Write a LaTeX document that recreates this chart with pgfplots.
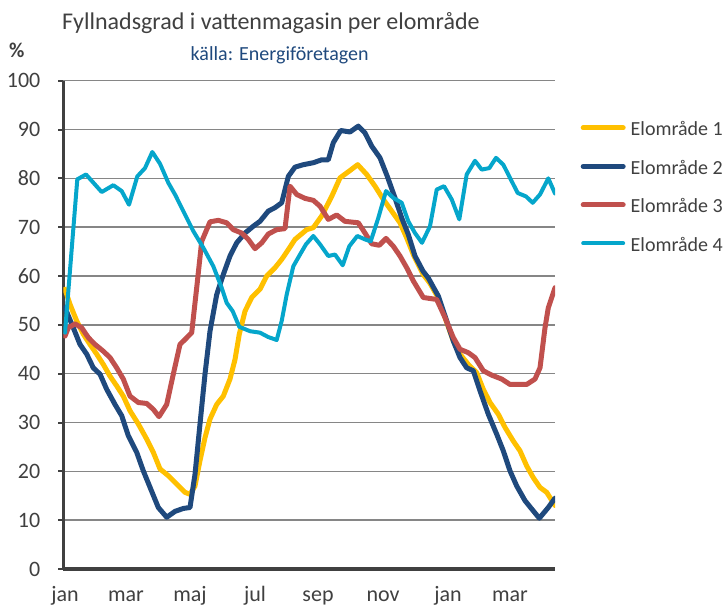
\documentclass[border=0pt]{standalone}
\usepackage{fontspec}
\setmainfont{Carlito}
\usepackage{pgfplots}
\pgfplotsset{compat=1.18}
\definecolor{c1}{HTML}{FFC000}
\definecolor{c2}{HTML}{1F497D}
\definecolor{c3}{HTML}{C0504D}
\definecolor{c4}{HTML}{05A6CB}
\definecolor{gridc}{HTML}{868686}
\definecolor{axc}{HTML}{404040}
\definecolor{txt}{HTML}{404040}
\definecolor{src}{HTML}{1F497D}
\begin{document}
\begin{tikzpicture}
\path[use as bounding box] (-63.5pt,-37pt) rectangle (661.5pt,569pt);
\begin{axis}[
  at={(0,0)}, anchor=south west, scale only axis,
  width=491.5pt, height=488.3pt,
  xmin=-1.5, xmax=490, ymin=0, ymax=100,
  /pgf/number format/assume math mode=true,
  axis x line*=bottom, axis y line*=left,
  x axis line style={axc, line width=4pt, line cap=butt},
  y axis line style={axc, line width=3pt, line cap=butt},
  ytick={0,10,...,100},
  xtick={0,61,125,190,253,318,383,445},
  xticklabels={jan,mar,maj,jul,sep,nov,jan,mar},
  ymajorgrids, grid style={gridc, line width=1.6pt},
  tick align=outside, major tick length=5pt,
  ytick style={axc, line width=2pt},
  xtick style={draw=none},
  yticklabel style={font=\fontsize{22}{26}\selectfont, color=txt, anchor=east, inner sep=0pt, xshift=-18pt},
  xticklabel style={font=\fontsize{22}{26}\selectfont, color=txt, anchor=base, inner sep=0pt, yshift=-27.5pt},
  legend style={draw=none, fill=none, at={(1,1)}, anchor=north west, xshift=25.5pt, yshift=-39pt,
    inner sep=0pt, row sep=22.5pt, column sep=5pt,
    font=\fontsize{20}{24}\selectfont,
    nodes={inner sep=0pt, text height=16pt, text depth=0pt, text=txt}},
  legend cell align=left,
  legend image code/.code={\draw[#1, line cap=round] (0pt,0pt) -- (40pt,0pt);},
  every axis plot/.append style={line join=round, line cap=round},
]
\addplot[c1, line width=5pt] coordinates {
(0,57.3) (5,54.2) (11.7,50.8) (18.3,48.1) (25,46.0) (31.7,44.0) (38.3,41.9) (45,39.5) (51.7,37.5) (58.3,35.4)
(65,32.4) (73.3,29.7) (81.7,26.6) (88.3,23.9) (95,20.5) (103.3,19.1) (111.7,17.4) (120,15.7) (125,15.3)
(130,17.0) (135,22.2) (140,26.9) (145,30.7) (151.7,33.7) (158.3,35.4) (165,38.9) (170,42.9) (174.3,48.1)
(180,52.8) (186.7,55.6) (195,57.3) (201.7,60.0) (210,61.7) (216.7,63.4) (223.3,65.4) (230,67.5) (241.7,69.5)
(248.3,69.9) (256.7,72.3) (266.7,76.3) (275,80.1) (284.3,81.5) (292.7,82.8) (301.7,80.8) (310,78.4)
(318.3,75.7) (326.7,73.3) (335,70.9) (341.7,67.8) (348.3,64.4) (358.3,60.3) (365,58.5) (373.3,55.5)
(381.7,50.5) (388.3,46.7) (395,44.0) (403.3,41.9) (411.7,40.2) (418.3,36.8) (425,34.1) (433.3,31.7)
(440,29.0) (448.3,26.2) (455,24.2) (461.7,21.1) (468.3,18.7) (475,16.7) (481.7,15.7) (490,13.0)
};
\addlegendentry{Elområde 1}
\addplot[c2, line width=5pt] coordinates {
(0,53.5) (8.3,49.4) (15,46.0) (21.7,44.0) (28.3,41.2) (35,39.9) (41.7,36.8) (50,33.7) (56.7,31.4) (63.3,27.3)
(71.7,23.9) (78.3,20.1) (85.7,16.4) (93.3,12.6) (101.7,10.6) (110,11.8) (118.3,12.4) (125,12.6)
(130,19.4) (135,29.7) (140,39.9) (145,48.7) (151.7,56.2) (158.3,60.3) (165,64.1) (171.7,66.8) (180,68.8)
(188.3,70.2) (195,71.2) (203.3,73.3) (210,74.0) (216.7,75.0) (223.3,80.4) (230,82.3) (238.3,82.8)
(248.3,83.2) (256.7,83.8) (263.3,83.8) (268.3,87.3) (275.7,89.8) (285,89.5) (293.3,90.7) (300,89.3)
(306.7,86.6) (315,84.2) (322.3,80.4) (330,76.0) (336.7,71.9) (343.3,68.5) (350,64.1) (358,61.0)
(363.3,59.6) (373.3,55.9) (381.7,50.8) (388.3,46.7) (395,43.3) (401.7,41.2) (408.3,40.6) (415,36.5)
(423.3,31.7) (431.7,27.6) (438.3,24.2) (445,20.1) (451.7,17.0) (460,14.0) (466.7,12.3) (474.3,10.4)
(483.3,12.6) (490,14.5)
};
\addlegendentry{Elområde 2}
\addplot[c3, line width=5pt] coordinates {
(0,47.7) (3.3,49.4) (10,50.2) (16.7,49.4) (23.3,47.4) (30,46.0) (38.3,44.6) (45,43.3) (51.7,41.2) (58.3,38.9)
(65,35.4) (73.3,34.1) (81.7,33.9) (88.3,32.7) (94,31.2) (101.7,33.7) (108.3,39.9) (115,46.0) (120,47.0)
(126.7,48.4) (131.7,57.6) (136.7,67.1) (145,71.1) (153.3,71.4) (161.7,70.9) (168.3,69.5) (176.7,68.8)
(183.3,67.5) (190,65.6) (196.7,66.8) (203.3,68.6) (211.7,69.5) (220,69.7) (225,78.4) (231.7,76.7)
(240,75.9) (248.3,75.5) (255,74.3) (263.3,71.6) (271.7,72.5) (280,71.2) (293.3,70.9) (300,68.8)
(306.7,66.6) (314.3,66.3) (321,67.7) (328.3,66.1) (335,64.1) (341.7,61.7) (348.3,59.0) (358.3,55.6)
(371.7,55.2) (380,51.5) (388.3,47.4) (395,45.0) (403.3,44.3) (410,43.3) (418.3,40.6) (426.7,39.7)
(436.7,38.9) (445,37.8) (453.3,37.8) (461.7,37.8) (470,38.9) (475,41.2) (480,49.4) (483.3,53.5) (490,57.6)
};
\addlegendentry{Elområde 3}
\addplot[c4, line width=4pt] coordinates {
(0,48.4) (12.3,79.8) (21,80.8) (36.7,77.2) (48.3,78.6) (56.7,77.4) (64,74.6) (72.3,80.4) (80,82.1)
(87.3,85.4) (95,83.0) (103.3,79.1) (110,76.7) (118.3,73.3) (128.3,69.2) (138.3,65.8) (148.3,62.0)
(156.7,57.6) (161.7,54.5) (167.7,52.8) (174.3,49.6) (185,48.7) (195,48.4) (203.3,47.5) (211.7,46.9)
(216.7,50.8) (221.7,56.2) (228.3,62.0) (235,64.4) (241,66.5) (248.3,68.2) (255,66.5) (263.3,64.1)
(270,64.4) (277.7,62.2) (284.3,66.1) (292.3,68.2) (300,67.5) (305.7,67.1) (313.3,71.9) (321,77.4)
(328.3,76.0) (336.7,75.0) (343.3,71.2) (350,68.8) (357,66.8) (365,70.2) (371.7,77.7) (379,78.4)
(386.7,75.7) (394.3,71.6) (401.7,80.8) (410,83.6) (416.7,81.8) (424.3,82.1) (431,84.2) (438.3,82.8)
(445,80.1) (452.7,77.0) (461,76.3) (467.7,75.0) (475,76.7) (483.3,80.0) (490,76.9)
};
\addlegendentry{Elområde 4}
\end{axis}
\node[anchor=base west, inner sep=0pt, text=txt, font=\fontsize{24}{28}\selectfont] at (-1.5pt,539pt) {Fyllnadsgrad i vattenmagasin per elområde};
\node[anchor=base west, inner sep=0pt, text=src, font=\fontsize{20}{24}\selectfont] at (127pt,508pt) {källa: Energiföretagen};
\node[anchor=base west, inner sep=0pt, text=txt, font=\fontsize{21}{24}\selectfont\bfseries] at (-54.5pt,511pt) {\%};
\end{tikzpicture}
\end{document}
